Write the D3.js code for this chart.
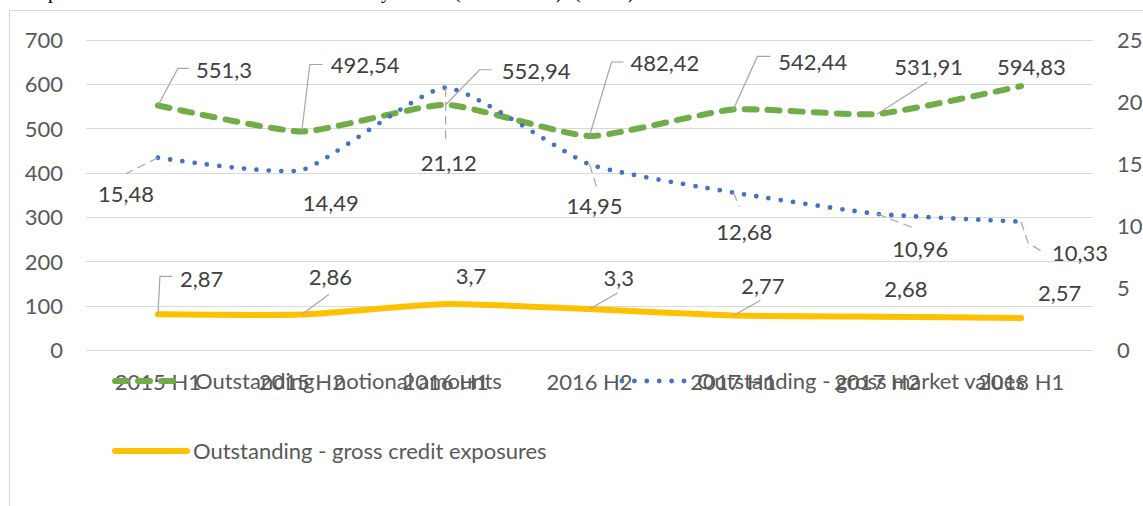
<!DOCTYPE html>
<html>
<head>
<meta charset="utf-8">
<script src="https://cdn.jsdelivr.net/npm/d3@7"></script>
<style>
  html, body { margin: 0; padding: 0; background: #ffffff; }
  svg { display: block; }
</style>
</head>
<body>
<svg id="chart" width="1143" height="506"></svg>
<script>
// ---------------- DATA ----------------
const categories = ["2015 H1", "2015 H2", "2016 H1", "2016 H2", "2017 H1", "2017 H2", "2018 H1"];
const notionalAmounts = [551.3, 492.54, 552.94, 482.42, 542.44, 531.91, 594.83];
const grossMarketValues = [15.48, 14.49, 21.12, 14.95, 12.68, 10.96, 10.33];
const grossCreditExposures = [2.87, 2.86, 3.7, 3.3, 2.77, 2.68, 2.57];
const leftTicks = [0, 100, 200, 300, 400, 500, 600, 700];
const rightTicks = [0, 5, 10, 15, 20, 25];
const seriesNames = [
  "Outstanding - notional amounts",
  "Outstanding - gross market values",
  "Outstanding - gross credit exposures"
];

// ---------------- LAYOUT / STYLE ----------------
const W = 1143, H = 506;
const plot = { left: 86, right: 1093, top: 39.5, bottom: 350 };
const FONT = "Lato, 'Open Sans', sans-serif";
const FS = 22;
const axisColor = "#595959";
const labelColor = "#404040";
const leaderColor = "#a6a6a6";
const colors = { green: "#70AD47", blue: "#4472C4", yellow: "#FFC000" };

// label offsets relative to each point: text start dx, text centre dy, leader points
const greenLabelLayout = [
  { dx: 38, dy: -35, leader: [[0,0],[20,-37],[31,-37]] },
  { dx: 29, dy: -66, leader: [[0,0],[8,-67],[21,-67]] },
  { dx: 56, dy: -34, leader: [[0,0],[34,-35],[46,-35]] },
  { dx: 41, dy: -73, leader: [[0,0],[22,-74],[34,-74]] },
  { dx: 45, dy: -47, leader: [[0,0],[24,-53],[37,-53]] },
  { dx: 17, dy: -47, leader: [[0,0],[50,-32]] },
  { dx: -24, dy: -19, leader: null }
];
const blueLabelLayout = [
  { dx: -60, dy: 36, leader: [[0,0],[-32,16]] },
  { dx: 1, dy: 33, leader: null },
  { dx: -25, dy: 75, leader: [[0,0],[0,52]] },
  { dx: -23, dy: 42, leader: [[0,0],[7,22]] },
  { dx: -17, dy: 40, leader: [[0,0],[6,14]] },
  { dx: 15, dy: 35, leader: [[0,0],[36,14]] },
  { dx: 31, dy: 31, leader: [[0,0],[7,21],[21,30]] }
];
const yellowLabelLayout = [
  { dx: 22, dy: -35, leader: [[0,0],[2,-38],[14,-38]] },
  { dx: 7, dy: -37, leader: [[0,0],[27,-20]] },
  { dx: 10, dy: -28, leader: null },
  { dx: 14, dy: -31, leader: [[0,0],[28,-16]] },
  { dx: 8, dy: -30, leader: [[0,0],[27,-15]] },
  { dx: 7, dy: -28, leader: null },
  { dx: 17, dy: -25, leader: null }
];

const svg = d3.select("#chart");

// cut-off title fragments at very top (only descenders visible, as in the source)
const titleFrag = svg.append("g")
  .attr("font-family", "'Liberation Serif', 'Times New Roman', serif")
  .attr("font-size", 20).attr("fill", "#000");
[["p", 48], ["y", 381], ["(", 454], [")", 556], ["(", 574], [")", 628]].forEach(([t, xx]) => {
  titleFrag.append("text").attr("x", xx).attr("y", -2).text(t);
});

// chart area border
svg.append("rect")
  .attr("x", 9.5).attr("y", 10.5)
  .attr("width", W + 20).attr("height", H + 20)
  .attr("fill", "none").attr("stroke", "#d9d9d9").attr("stroke-width", 1);

// scales
const x = d3.scaleBand().domain(categories).range([plot.left, plot.right]).padding(0);
const cx = d => x(d) + x.bandwidth() / 2;
const yL = d3.scaleLinear().domain([0, 700]).range([plot.bottom, plot.top]);
const yR = d3.scaleLinear().domain([0, 25]).range([plot.bottom, plot.top]);

// gridlines
svg.append("g").selectAll("line").data(leftTicks).join("line")
  .attr("x1", plot.left).attr("x2", plot.right)
  .attr("y1", d => Math.round(yL(d)) + 0.5).attr("y2", d => Math.round(yL(d)) + 0.5)
  .attr("stroke", "#d9d9d9").attr("stroke-width", 1);

// left axis
const leftAxis = d3.axisLeft(yL).tickValues(leftTicks).tickSize(0).tickPadding(0);
const gL = svg.append("g").attr("transform", `translate(${63},0)`).call(leftAxis);
gL.select(".domain").remove();
gL.selectAll("text").attr("font-family", FONT).attr("font-size", FS).attr("fill", axisColor)
  .attr("dy", "0.36em");

// right axis
const rightAxis = d3.axisRight(yR).tickValues(rightTicks).tickSize(0).tickPadding(0);
const gR = svg.append("g").attr("transform", `translate(${1117},0)`).call(rightAxis);
gR.select(".domain").remove();
gR.selectAll("text").attr("font-family", FONT).attr("font-size", FS).attr("fill", axisColor)
  .attr("dy", "0.36em");

// x axis labels
const xAxis = d3.axisBottom(x).tickSize(0).tickPadding(0);
const gX = svg.append("g").attr("transform", `translate(0,${382})`).call(xAxis);
gX.select(".domain").remove();
gX.selectAll("text").attr("font-family", FONT).attr("font-size", FS).attr("fill", axisColor)
  .attr("dy", "0.36em");

// line generators (Excel-like light smoothing)
const curve = d3.curveCardinal.tension(0.5);
const lineL = d3.line().x((d, i) => cx(categories[i])).y(d => yL(d)).curve(curve);
const lineR = d3.line().x((d, i) => cx(categories[i])).y(d => yR(d)).curve(curve);

svg.append("path").datum(notionalAmounts).attr("d", lineL)
  .attr("fill", "none").attr("stroke", colors.green).attr("stroke-width", 6)
  .attr("stroke-linecap", "round").attr("stroke-dasharray", "12,11");

svg.append("path").datum(grossMarketValues).attr("d", lineR)
  .attr("fill", "none").attr("stroke", colors.blue).attr("stroke-width", 4.8)
  .attr("stroke-linecap", "round").attr("stroke-dasharray", "0,12.4");

svg.append("path").datum(grossCreditExposures).attr("d", lineR)
  .attr("fill", "none").attr("stroke", colors.yellow).attr("stroke-width", 6)
  .attr("stroke-linecap", "round");

// data labels
const fmt = v => String(v).replace(".", ",");
function drawLabels(values, scale, layout, dashed) {
  const g = svg.append("g");
  values.forEach((v, i) => {
    const px = cx(categories[i]), py = scale(v);
    const L = layout[i];
    if (L.leader) {
      g.append("path")
        .attr("d", d3.line()(L.leader.map(([a, b]) => [px + a, py + b])))
        .attr("fill", "none").attr("stroke", leaderColor).attr("stroke-width", 1.2)
        .attr("stroke-dasharray", dashed ? "9,5" : null);
    }
    g.append("text")
      .attr("x", px + L.dx).attr("y", py + L.dy).attr("dy", "0.36em")
      .attr("font-family", FONT).attr("font-size", FS).attr("fill", labelColor)
      .text(fmt(v));
  });
}
drawLabels(notionalAmounts, yL, greenLabelLayout, false);
drawLabels(grossMarketValues, yR, blueLabelLayout, true);
drawLabels(grossCreditExposures, yR, yellowLabelLayout, false);

// legend
const legendItems = [
  { name: seriesNames[0], color: colors.green, x1: 115, x2: 183, tx: 195, y: 381, dash: "12,11", w: 6 },
  { name: seriesNames[1], color: colors.blue, x1: 622, x2: 692, tx: 697, y: 381, dash: "0,12.4", w: 4.8 },
  { name: seriesNames[2], color: colors.yellow, x1: 115, x2: 187, tx: 193, y: 451, dash: null, w: 6 }
];
const lg = svg.append("g");
legendItems.forEach(it => {
  lg.append("line").attr("x1", it.x1).attr("x2", it.x2).attr("y1", it.y).attr("y2", it.y)
    .attr("stroke", it.color).attr("stroke-width", it.w).attr("stroke-linecap", "round")
    .attr("stroke-dasharray", it.dash);
  lg.append("text").attr("x", it.tx).attr("y", it.y).attr("dy", "0.36em")
    .attr("font-family", FONT).attr("font-size", FS).attr("fill", axisColor)
    .text(it.name);
});
</script>
</body>
</html>
